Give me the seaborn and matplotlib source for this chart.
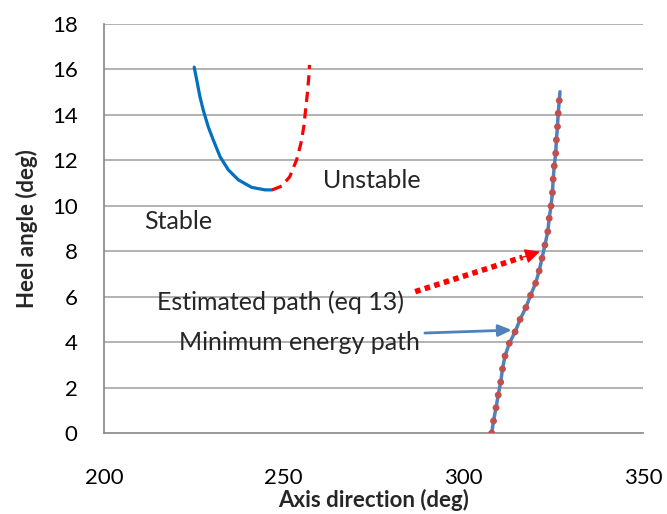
import numpy as np
import pandas as pd
import matplotlib
matplotlib.use("Agg")
import matplotlib.pyplot as plt
import seaborn as sns

# stable branch (solid blue)
stable_x = [225.1, 225.8, 226.7, 227.6, 229.0, 230.4, 232.3, 234.6, 237.4,
            241.1, 244.8, 246.8]
stable_y = [16.10, 15.54, 14.80, 14.22, 13.48, 12.90, 12.16, 11.58, 11.14,
            10.81, 10.70, 10.70]

# unstable branch (dashed red)
unstable_x = [246.8, 249.5, 251.7, 253.6, 254.8, 255.6, 256.1, 256.6, 257.0, 257.2]
unstable_y = [10.70, 10.87, 11.28, 12.02, 12.75, 13.48, 14.22, 14.95, 15.68, 16.20]

# minimum energy path (blue line)
min_x = [307.9, 308.4, 309.1, 309.7, 310.4, 310.9, 311.6, 312.8, 314.4, 315.8,
         317.4, 318.7, 320.1, 321.1, 321.9, 322.7, 323.5, 323.9, 324.4, 324.8,
         325.0, 325.3, 325.7, 325.9, 326.2, 326.4, 326.7, 326.9]
min_y = [0.0, 0.53, 1.11, 1.67, 2.24, 2.82, 3.39, 3.95, 4.45, 5.0,
         5.52, 6.06, 6.59, 7.13, 7.69, 8.27, 8.86, 9.45, 9.99, 10.58,
         11.17, 11.75, 12.31, 12.90, 13.48, 14.07, 14.63, 15.02]

# estimated path (eq 13), red dots
est_x = min_x[:-1]
est_y = min_y[:-1]

# arrow endpoints (tail, head)
est_arrow = [(286.6, 6.22), (321.3, 7.98)]
min_arrow = [(289.3, 4.4), (313.5, 4.53)]

sns.set_style("white")
plt.rcParams['font.family'] = ['Lato', 'DejaVu Sans']

fig = plt.figure(figsize=(6.67, 5.14), dpi=100)
ax = fig.add_axes([104/667, 1 - 433/514, (643-104)/667, (433-24)/514])

grid_c = '#a6a6a6'
for yy in range(2, 19, 2):
    ax.axhline(yy, color=grid_c, lw=1.2, zorder=0)

sns.lineplot(x=stable_x, y=stable_y, sort=False, color='#0070c0', lw=2.3, ax=ax)
sns.lineplot(x=unstable_x, y=unstable_y, sort=False, color='#ff0000', lw=2.3,
             ax=ax, linestyle=(0, (3.2, 2)))
sns.lineplot(x=min_x, y=min_y, sort=False, color='#4f81bd', lw=2.5, ax=ax)
sns.scatterplot(x=est_x, y=est_y, color='#c0504d', s=24, edgecolor='none',
                ax=ax, zorder=5)

ax.set_xlim(200, 350)
ax.set_ylim(0, 18)
ax.set_xticks([200, 250, 300, 350])
ax.set_yticks(range(0, 19, 2))

for s in ['top', 'right']:
    ax.spines[s].set_visible(False)
for s in ['left', 'bottom']:
    ax.spines[s].set_color('#868686')
    ax.spines[s].set_linewidth(1.2)
ax.tick_params(axis='both', direction='out', length=5, width=1.2,
               color='#868686', labelsize=16, labelcolor='black')
ax.tick_params(axis='x', pad=20)
ax.tick_params(axis='y', pad=14)

ax.set_xlabel('Axis direction (deg)', fontsize=16, fontweight='bold', labelpad=1)
ax.set_ylabel('Heel angle (deg)', fontsize=16, fontweight='bold', labelpad=10)

ax.text(274.6, 11.1, 'Unstable', fontsize=18, ha='center', va='center')
ax.text(220.6, 9.33, 'Stable', fontsize=18, ha='center', va='center')
ax.text(249.0, 5.77, 'Estimated path (eq 13)', fontsize=18, ha='center', va='center')
ax.text(254.5, 4.0, 'Minimum energy path', fontsize=18, ha='center', va='center')

# red dotted arrow: dotted shaft + filled head
(x0, y0), (x1, y1) = est_arrow
xm = x0 + (x1 - x0) * 0.86
ym = y0 + (y1 - y0) * 0.86
ax.plot([x0, xm], [y0, ym], color='#ff0000', lw=4, linestyle=(0, (1, 0.8)),
        dash_capstyle='butt')
ax.annotate('', xy=(x1, y1), xytext=(xm - (x1 - x0) * 0.02, ym - (y1 - y0) * 0.02),
            arrowprops=dict(arrowstyle='-|>,head_length=0.9,head_width=0.45',
                            color='#ff0000', lw=1, shrinkA=0, shrinkB=0))

(x0, y0), (x1, y1) = min_arrow
ax.annotate('', xy=(x1, y1), xytext=(x0, y0),
            arrowprops=dict(arrowstyle='-|>,head_length=0.8,head_width=0.35',
                            color='#4f81bd', lw=2,
                            shrinkA=0, shrinkB=0))

fig.savefig('out.png', dpi=100)
